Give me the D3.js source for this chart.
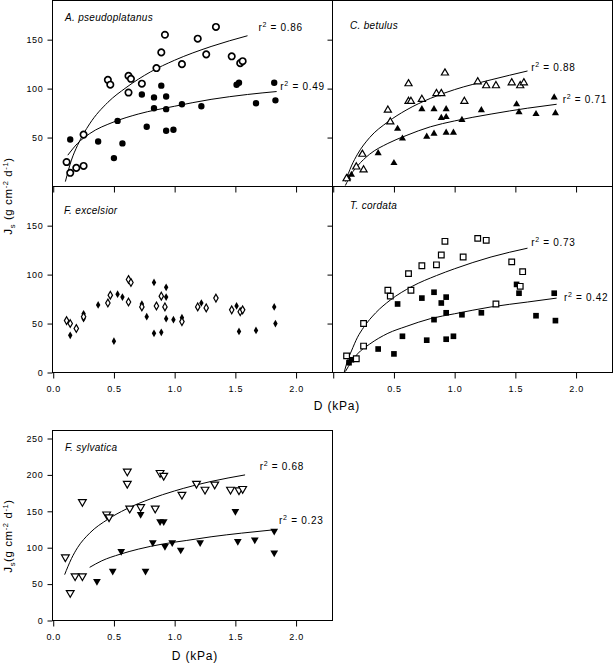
<!DOCTYPE html>
<html>
<head>
<meta charset="utf-8">
<script src="https://cdn.jsdelivr.net/npm/d3@7"></script>
<style>
  body { margin: 0; background: #fff; }
  svg { display: block; font-family: "Liberation Sans", Arial, sans-serif; }
</style>
</head>
<body>
<div id="chart"></div>
<script>
// D (kPa), Js (g cm-2 d-1)
const pseudoOpen = [[0.11,25],[0.14,14],[0.19,19],[0.25,21],[0.25,53],[0.45,109],[0.47,104],[0.62,113],[0.64,110],[0.62,96],[0.73,105],[0.85,121],[0.89,137],[0.92,155],[1.06,125],[1.19,151],[1.26,135],[1.34,163],[1.47,133],[1.54,126],[1.56,128]]
const pseudoFilled = [[0.14,48],[0.37,46],[0.50,29],[0.53,67],[0.57,44],[0.73,94],[0.77,61],[0.83,91],[0.83,80],[0.89,103],[0.93,92],[0.93,79],[0.93,57],[0.99,58],[1.06,84],[1.22,82],[1.51,104],[1.53,106],[1.67,85],[1.82,106],[1.83,88]]
const pseudoFitOpen = [[0.1,5],[0.15,27],[0.2,42],[0.3,64],[0.45,86],[0.6,101],[0.8,117],[1.0,129],[1.3,143],[1.6,154]]
const pseudoFitFilled = [[0.12,32],[0.2,44],[0.3,54],[0.5,66],[0.7,74],[1.0,82],[1.3,89],[1.6,94],[1.84,97]]

const betulusOpen = [[0.11,8],[0.19,20],[0.25,17],[0.24,33],[0.45,78],[0.47,66],[0.62,105],[0.62,87],[0.64,87],[0.73,89],[0.85,95],[0.89,95],[0.92,116],[1.08,87],[1.19,107],[1.26,103],[1.34,103],[1.47,106],[1.54,103],[1.57,106]]
const betulusFilled = [[0.12,9],[0.15,12],[0.37,34],[0.50,24],[0.53,59],[0.57,49],[0.73,79],[0.77,51],[0.83,54],[0.83,79],[0.89,70],[0.93,71],[0.93,79],[0.93,55],[0.99,55],[1.06,68],[1.22,78],[1.51,84],[1.53,76],[1.67,74],[1.82,91],[1.83,75]]
const betulusFitOpen = [[0.1,5],[0.15,21],[0.2,33],[0.3,50],[0.45,66],[0.6,78],[0.8,90],[1.0,99],[1.3,109],[1.6,118]]
const betulusFitFilled = [[0.1,1],[0.15,13],[0.2,21],[0.3,33],[0.45,44],[0.6,52],[0.8,61],[1.0,67],[1.3,74],[1.6,80],[1.84,84]]

const excelsiorOpen = [[0.11,53],[0.14,50],[0.19,45],[0.25,57],[0.45,71],[0.47,79],[0.62,95],[0.64,92],[0.62,72],[0.73,67],[0.85,68],[0.89,78],[0.92,67],[1.06,52],[1.19,67],[1.26,66],[1.34,76],[1.47,64],[1.54,62],[1.56,64]]
const excelsiorFilled = [[0.14,38],[0.25,60],[0.25,55],[0.37,69],[0.50,32],[0.53,80],[0.57,77],[0.73,70],[0.77,57],[0.83,92],[0.83,40],[0.89,41],[0.93,87],[0.93,77],[0.93,55],[0.99,54],[1.06,56],[1.22,71],[1.51,68],[1.53,42],[1.67,43],[1.82,67],[1.83,50]]

const cordataOpen = [[0.11,17],[0.19,14],[0.25,27],[0.25,50],[0.45,84],[0.47,78],[0.62,101],[0.64,84],[0.73,109],[0.85,110],[0.89,120],[0.92,134],[1.07,118],[1.19,137],[1.26,135],[1.34,70],[1.47,113],[1.54,88],[1.56,103]]
const cordataFilled = [[0.13,10],[0.15,13],[0.37,24],[0.50,19],[0.53,70],[0.57,37],[0.73,76],[0.77,33],[0.83,82],[0.83,54],[0.89,71],[0.93,34],[0.93,77],[0.93,61],[0.99,37],[1.06,59],[1.22,61],[1.51,90],[1.53,81],[1.67,58],[1.82,81],[1.83,53]]
const cordataFitOpen = [[0.09,0],[0.12,13],[0.15,22],[0.2,36],[0.25,46],[0.35,61],[0.47,74],[0.65,88],[0.85,99],[1.0,106],[1.3,118],[1.6,127]]
const cordataFitFilled = [[0.1,1],[0.15,11],[0.2,19],[0.3,29],[0.45,40],[0.6,47],[0.8,55],[1.0,60],[1.3,67],[1.6,72],[1.84,76]]

const sylvaticaOpen = [[0.10,87],[0.14,38],[0.18,61],[0.24,61],[0.24,163],[0.44,146],[0.46,142],[0.61,205],[0.61,188],[0.63,154],[0.72,156],[0.84,154],[0.88,203],[0.91,199],[1.06,173],[1.18,188],[1.25,180],[1.33,187],[1.46,180],[1.53,179],[1.56,181]]
const sylvaticaFilled = [[0.36,54],[0.49,68],[0.56,95],[0.72,146],[0.76,68],[0.82,107],[0.88,136],[0.91,136],[0.92,102],[0.98,107],[1.05,97],[1.21,107],[1.50,150],[1.52,109],[1.66,111],[1.82,123],[1.82,93]]
const sylvaticaFitOpen = [[0.094,63],[0.15,85],[0.2,100],[0.3,120],[0.45,139],[0.6,153],[0.8,167],[1.0,178],[1.3,191],[1.58,200]]
const sylvaticaFitFilled = [[0.3,73],[0.4,82],[0.55,91],[0.7,98],[0.9,105],[1.1,110],[1.3,115],[1.55,120],[1.84,125]]

// r2 values: [open fit, filled fit]
const r2Pseudo = ["0.86", "0.49"]
const r2Betulus = ["0.88", "0.71"]
const r2Cordata = ["0.73", "0.42"]
const r2Sylvatica = ["0.68", "0.23"]

const xTicks = [0, 0.5, 1, 1.5, 2]
const yTicksRow = [0, 50, 100, 150]
const yTicksSyl = [0, 50, 100, 150, 200, 250]

const width = 614, height = 664

const svg = d3.select("#chart").append("svg")
  .attr("width", width)
  .attr("height", height)

// layout of the panels
const panels = [
  { title: "A. pseudoplatanus", left: 52.5, top: 0.5, bottom: 186.5, ymax: 190, shape: "circle",
    open: pseudoOpen, filled: pseudoFilled, fits: [pseudoFitOpen, pseudoFitFilled], r2: r2Pseudo,
    r2pos: [[1.69, 159], [1.87, 98.5]], titleOff: [12.5, 20],
    yTicks: yTicksRow.slice(1), yLabels: true, xLabels: "none" },
  { title: "C. betulus", left: 332.5, top: 0.5, bottom: 186.5, ymax: 190, shape: "triangle",
    open: betulusOpen, filled: betulusFilled, fits: [betulusFitOpen, betulusFitFilled], r2: r2Betulus,
    r2pos: [[1.63, 118], [1.89, 85]], titleOff: [17.5, 28],
    yTicks: yTicksRow.slice(1), yLabels: false, xLabels: "none" },
  { title: "F. excelsior", left: 52.5, top: 186.5, bottom: 372.5, ymax: 190, shape: "diamond",
    open: excelsiorOpen, filled: excelsiorFilled, fits: [], r2: [],
    r2pos: [], titleOff: [11.5, 27],
    yTicks: yTicksRow, yLabels: true, xLabels: "all" },
  { title: "T. cordata", left: 332.5, top: 186.5, bottom: 372.5, ymax: 190, shape: "square",
    open: cordataOpen, filled: cordataFilled, fits: [cordataFitOpen, cordataFitFilled], r2: r2Cordata,
    r2pos: [[1.63, 129], [1.9, 73]], titleOff: [17.5, 22],
    yTicks: yTicksRow.slice(1), yLabels: false, xLabels: "nozero" },
  { title: "F. sylvatica", left: 52.5, top: 430.5, bottom: 620.5, ymax: 261, shape: "triangleDown",
    open: sylvaticaOpen, filled: sylvaticaFilled, fits: [sylvaticaFitOpen, sylvaticaFitFilled], r2: r2Sylvatica,
    r2pos: [[1.7, 207], [1.86, 133]], titleOff: [12.5, 20],
    yTicks: yTicksSyl, yLabels: true, xLabels: "all" }
]

const symbolType = {
  circle: d3.symbolCircle,
  triangle: d3.symbolTriangle,
  triangleDown: d3.symbolTriangle,
  square: d3.symbolSquare,
  diamond: d3.symbolDiamond
}
const symbolSize = { circle: 32, triangle: 22, triangleDown: 26, square: 32, diamond: 17 }

const fmt = d3.format(".1f")

function drawPanel(p) {
  const x = d3.scaleLinear().domain([-0.006, 2.3]).range([p.left, p.left + 280])
  const y = d3.scaleLinear().domain([0, p.ymax]).range([p.bottom, p.top])
  const g = svg.append("g")

  // frame
  g.append("rect")
    .attr("x", p.left).attr("y", p.top)
    .attr("width", 280).attr("height", p.bottom - p.top)
    .attr("fill", "none").attr("stroke", "#000").attr("stroke-width", 1)

  // x axis
  let xf = d => ""
  if (p.xLabels == "all") xf = d => fmt(d)
  if (p.xLabels == "nozero") xf = d => d === 0 ? "" : fmt(d)
  const xa = g.append("g")
    .attr("transform", "translate(0," + p.bottom + ")")
    .call(d3.axisBottom(x).tickValues(xTicks).tickSize(6).tickPadding(7).tickFormat(xf))
  xa.select(".domain").remove()

  // y axis
  const ya = g.append("g")
    .attr("transform", "translate(" + p.left + ",0)")
    .call(d3.axisLeft(y).tickValues(p.yTicks).tickSize(5).tickPadding(4)
      .tickFormat(p.yLabels ? d => d : d => ""))
  ya.select(".domain").remove()

  g.selectAll(".tick line").attr("stroke", "#000")
  g.selectAll(".tick text")
    .attr("fill", "#000")
    .style("letter-spacing", "0.7px")
  xa.attr("font-family", null).attr("font-size", 9)
  ya.attr("font-family", null).attr("font-size", 9)

  // fitted curves
  const line = d3.line()
    .x(d => x(d[0]))
    .y(d => y(d[1]))
    .curve(d3.curveMonotoneX)
  p.fits.forEach(f => {
    g.append("path")
      .attr("d", line(f))
      .attr("fill", "none")
      .attr("stroke", "#000")
      .attr("stroke-width", 1)
  })

  const sym = d3.symbol().type(symbolType[p.shape]).size(symbolSize[p.shape])
  const rot = p.shape == "triangleDown" ? " rotate(180)" : ""

  g.append("g").selectAll("path")
    .data(p.filled)
    .enter()
    .append("path")
    .attr("d", sym)
    .attr("transform", d => "translate(" + x(d[0]) + "," + y(d[1]) + ")" + rot)
    .attr("fill", "#000")

  g.append("g").selectAll("path")
    .data(p.open)
    .enter()
    .append("path")
    .attr("d", sym)
    .attr("transform", d => "translate(" + x(d[0]) + "," + y(d[1]) + ")" + rot)
    .attr("fill", "#fff")
    .attr("stroke", "#000")
    .attr("stroke-width", p.shape == "circle" ? 1.7 : 1.2)

  // r2 labels
  p.r2.forEach((val, i) => {
    const t = g.append("text")
      .attr("x", x(p.r2pos[i][0]))
      .attr("y", y(p.r2pos[i][1]))
      .attr("font-size", 10)
      .style("letter-spacing", "0.7px")
    t.append("tspan").text("r")
    t.append("tspan").attr("dy", -4).attr("font-size", 7).text("2")
    t.append("tspan").attr("dy", 4).text(" = " + val)
  })

  // species title
  g.append("text")
    .attr("x", p.left + p.titleOff[0])
    .attr("y", p.top + p.titleOff[1])
    .attr("font-size", 10)
    .attr("font-style", "italic")
    .style("letter-spacing", "0.3px")
    .text(p.title)
}

panels.forEach(drawPanel)

// axis titles
function yTitle(cy, gap) {
  const t = svg.append("text")
    .attr("transform", "translate(12," + cy + ") rotate(-90)")
    .attr("text-anchor", "middle")
    .attr("font-size", 11.5)
    .style("letter-spacing", "0.6px")
  t.append("tspan").text("J")
  t.append("tspan").attr("dy", 3).attr("font-size", 7.5).text("s")
  t.append("tspan").attr("dy", -3).text(gap + "(g cm")
  t.append("tspan").attr("dy", -4.5).attr("font-size", 7.5).text("-2")
  t.append("tspan").attr("dy", 4.5).text(" d")
  t.append("tspan").attr("dy", -4.5).attr("font-size", 7.5).text("-1")
  t.append("tspan").attr("dy", 4.5).text(")")
}
yTitle(196, " ")
yTitle(536, "")

function xTitle(cx, y) {
  svg.append("text")
    .attr("x", cx).attr("y", y)
    .attr("text-anchor", "middle")
    .attr("font-size", 12)
    .style("letter-spacing", "0.8px")
    .text("D (kPa)")
}
xTitle(337, 410)
xTitle(195, 660)
</script>
</body>
</html>
